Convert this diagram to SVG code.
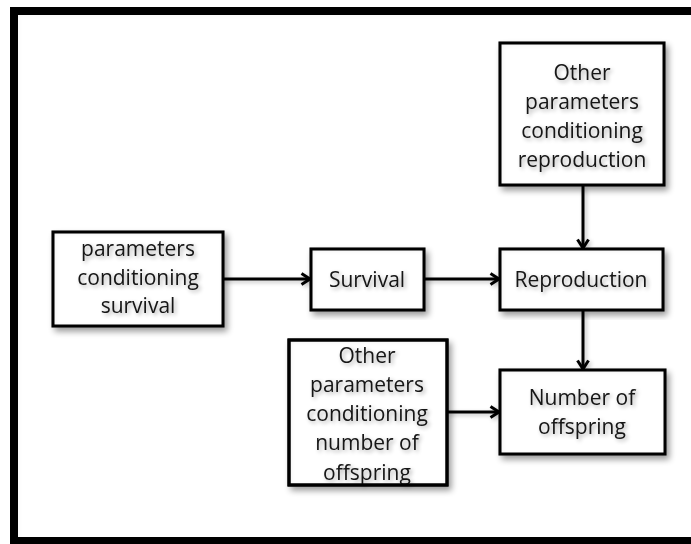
<svg xmlns="http://www.w3.org/2000/svg" width="691" height="544" viewBox="0 0 691 544">
  <defs>
    <style>
      .box { fill: #ffffff; stroke: #000000; stroke-width: 3; filter: url(#boxfx); }
      .frame { fill: #ffffff; stroke: #000000; stroke-width: 8; filter: url(#framefx); }
      .lbl { font-family: "Open Sans", "Noto Sans", "Liberation Sans", sans-serif; font-size: 21px; fill: #141414; text-anchor: middle; filter: url(#textfx); }
      .edge { fill: none; stroke: #000000; stroke-width: 3; marker-end: url(#arrow); filter: url(#edgefx); }
    </style>
    <!-- drop shadow plus soft inner shadow for the boxes -->
    <filter id="boxfx" x="-15%" y="-15%" width="130%" height="130%">
      <feGaussianBlur in="SourceAlpha" stdDeviation="3" result="b"/>
      <feOffset in="b" dx="3" dy="4" result="ob"/>
      <feComponentTransfer in="ob" result="ds"><feFuncA type="linear" slope="0.4"/></feComponentTransfer>
      <feComponentTransfer in="SourceAlpha" result="inv"><feFuncA type="table" tableValues="1 0"/></feComponentTransfer>
      <feGaussianBlur in="inv" stdDeviation="3" result="invb"/>
      <feOffset in="invb" dx="1" dy="1" result="invo"/>
      <feComposite in="invo" in2="SourceAlpha" operator="in" result="innermask"/>
      <feFlood flood-color="#000000" flood-opacity="0.3"/>
      <feComposite in2="innermask" operator="in" result="inner"/>
      <feMerge><feMergeNode in="ds"/><feMergeNode in="SourceGraphic"/><feMergeNode in="inner"/></feMerge>
    </filter>
    <!-- inner shadow for the outer frame -->
    <filter id="framefx" x="-5%" y="-5%" width="110%" height="110%">
      <feComponentTransfer in="SourceAlpha" result="inv"><feFuncA type="table" tableValues="1 0"/></feComponentTransfer>
      <feGaussianBlur in="inv" stdDeviation="4" result="invb"/>
      <feOffset in="invb" dx="3" dy="3" result="invo"/>
      <feComposite in="invo" in2="SourceAlpha" operator="in" result="innermask"/>
      <feFlood flood-color="#000000" flood-opacity="0.4"/>
      <feComposite in2="innermask" operator="in" result="inner"/>
      <feMerge><feMergeNode in="SourceGraphic"/><feMergeNode in="inner"/></feMerge>
    </filter>
    <!-- soft text shadow -->
    <filter id="textfx" x="-10%" y="-30%" width="120%" height="160%">
      <feGaussianBlur in="SourceAlpha" stdDeviation="2" result="b"/>
      <feOffset in="b" dx="2" dy="2" result="ob"/>
      <feComponentTransfer in="ob" result="ts"><feFuncA type="linear" slope="0.35"/></feComponentTransfer>
      <feMerge><feMergeNode in="ts"/><feMergeNode in="SourceGraphic"/></feMerge>
    </filter>
    <!-- faint shadow under the connectors -->
    <filter id="edgefx" filterUnits="userSpaceOnUse" x="0" y="0" width="691" height="544">
      <feGaussianBlur in="SourceAlpha" stdDeviation="2" result="b"/>
      <feOffset in="b" dx="2" dy="2" result="ob"/>
      <feComponentTransfer in="ob" result="es"><feFuncA type="linear" slope="0.25"/></feComponentTransfer>
      <feMerge><feMergeNode in="es"/><feMergeNode in="SourceGraphic"/></feMerge>
    </filter>
    <marker id="arrow" viewBox="0 0 12 14" refX="10.5" refY="7" markerWidth="12" markerHeight="14" markerUnits="userSpaceOnUse" orient="auto">
      <path d="M2,1.5 L10.5,7 L2,12.5" fill="none" stroke="#000000" stroke-width="3" stroke-linejoin="miter"/>
    </marker>
  </defs>

  <rect class="frame" x="14" y="11" width="700" height="530"/>

  <g id="connectors">
    <line class="edge" x1="223" y1="279" x2="310" y2="279"/>
    <line class="edge" x1="424" y1="279" x2="499" y2="279"/>
    <line class="edge" x1="583" y1="186" x2="583" y2="248"/>
    <line class="edge" x1="583" y1="311" x2="583" y2="369"/>
    <line class="edge" x1="447" y1="412" x2="499" y2="412"/>
  </g>

  <g id="node-other-reproduction">
    <rect class="box" x="500" y="43" width="164" height="142"/>
    <text class="lbl" x="582" y="80">Other</text>
    <text class="lbl" x="582" y="109">parameters</text>
    <text class="lbl" x="582" y="138">conditioning</text>
    <text class="lbl" x="582" y="167">reproduction</text>
  </g>

  <g id="node-survival-params">
    <rect class="box" x="53" y="232" width="170" height="94"/>
    <text class="lbl" x="138" y="256">parameters</text>
    <text class="lbl" x="138" y="285">conditioning</text>
    <text class="lbl" x="138" y="313">survival</text>
  </g>

  <g id="node-survival">
    <rect class="box" x="311" y="249" width="113" height="61"/>
    <text class="lbl" x="367" y="287">Survival</text>
  </g>

  <g id="node-reproduction">
    <rect class="box" x="500" y="249" width="163" height="61"/>
    <text class="lbl" x="581" y="287">Reproduction</text>
  </g>

  <g id="node-other-offspring">
    <!-- fill and shadow first, border last so it runs over the descenders of the last line -->
    <rect class="box" x="289" y="340" width="158" height="145" stroke="none"/>
    <text class="lbl" x="367" y="363">Other</text>
    <text class="lbl" x="367" y="392">parameters</text>
    <text class="lbl" x="367" y="421">conditioning</text>
    <text class="lbl" x="367" y="450">number of</text>
    <text class="lbl" x="367" y="480">offspring</text>
    <rect x="289" y="340" width="158" height="145" fill="none" stroke="#000000" stroke-width="3"/>
  </g>

  <g id="node-offspring">
    <rect class="box" x="500" y="370" width="165" height="84"/>
    <text class="lbl" x="582" y="405">Number of</text>
    <text class="lbl" x="582" y="434">offspring</text>
  </g>
</svg>
